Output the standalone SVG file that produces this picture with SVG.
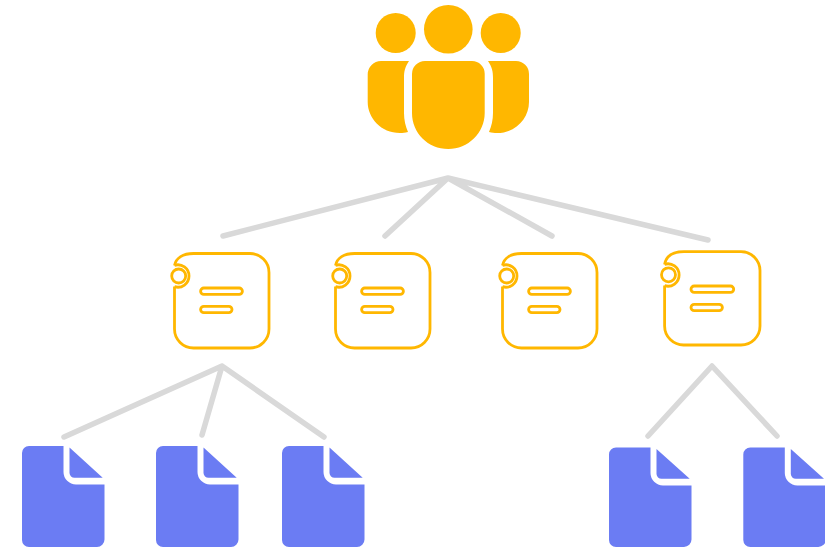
<svg xmlns="http://www.w3.org/2000/svg" width="825" height="547" viewBox="0 0 825 547">
<style>
.p{fill:#ffb700}
.d{fill:#6b7cf3}
.c{fill:none;stroke:#d9d9d9;stroke-width:5.5;stroke-linecap:round;stroke-linejoin:round}
.o{fill:none;stroke:#ffb700;stroke-width:2.8}
.r{fill:#fff;stroke:#ffb700;stroke-width:2.8}
</style>
<defs>
<g id="task">
<path class="o" d="M174.500,265.500C176,258 183,253.500 193.500,253.500H250A19,19 0 0 1 269,272.500V329A19,19 0 0 1 250,348H193.500A19,19 0 0 1 174.500,329V286.500"/>
<path class="o" d="M174.500,265.300A11.200,11.200 0 1 1 174.500,286.700"/>
<circle class="r" cx="178.700" cy="276" r="7"/>
<rect class="r" x="200.600" y="288" width="41.800" height="6.400" rx="3.200"/>
<rect class="r" x="200.600" y="306.300" width="31.400" height="6.400" rx="3.200"/>
</g>
<g id="task-b">
<path class="o" d="M664.600,264.500C666,256 673,251.600 684,251.600H741A19,19 0 0 1 760,270.600V326A19,19 0 0 1 741,345H684A19,19 0 0 1 664.600,326V285.500"/>
<path class="o" d="M664.600,264.300A11.200,11.200 0 1 1 664.600,285.700"/>
<circle class="r" cx="668.500" cy="274.800" r="7"/>
<rect class="r" x="691" y="286" width="42.700" height="6.400" rx="3.200"/>
<rect class="r" x="691" y="304.300" width="31.400" height="6.400" rx="3.200"/>
</g>
<g id="doc">
<path class="d" d="M29,446H63.500V472A12.500,12.500 0 0 0 76,484.500H104.500V539.500A7.500,7.500 0 0 1 97,547H29A7,7 0 0 1 22,540V453A7,7 0 0 1 29,446Z"/>
<path class="d" d="M69.500,447.500L102.700,477.800H74.500A5,5 0 0 1 69.500,473Z"/>
</g>
</defs>
<g id="connectors">
<path class="c" d="M223,236L448,178L708,240M385,236L448,178L552,236"/>
<path class="c" d="M64,437L222,366L324,437M202,435L222,366"/>
<path class="c" d="M648,436L712,366L777,436"/>
</g>
<g id="people">
<circle class="p" cx="448.300" cy="29.300" r="24.300"/>
<circle class="p" cx="395.700" cy="33" r="20"/>
<circle class="p" cx="500.700" cy="33" r="20"/>
<path class="p" d="M425,61H472A12.700,12.700 0 0 1 484.700,73.700V113C484.700,133 468,149 448.300,149C428,149 412,133 412,113V74A13,13 0 0 1 425,61Z"/>
<path class="p" d="M381,61H409C405,67 404,71 404,78V113C404,120 405.500,126 408,132C405,132.700 403,133 400,133C381,133 367.700,118 367.700,102V74.300A13.300,13.300 0 0 1 381,61Z"/>
<path class="p" d="M516,61H488C492,67 493,71 493,78V113C493,120 491.500,126 489,132C492,132.700 494,133 497,133C516,133 529,118 529,102V74A13,13 0 0 0 516,61Z"/>
</g>
<g id="task1"><use href="#task"/></g>
<g id="task2"><use href="#task" x="161"/></g>
<g id="task3"><use href="#task" x="328"/></g>
<g id="task4"><use href="#task-b"/></g>
<g id="doc1"><use href="#doc"/></g>
<g id="doc2"><use href="#doc" x="134"/></g>
<g id="doc3"><use href="#doc" x="260"/></g>
<g id="doc4" transform="matrix(1 0 0 .985 587 8.190)"><use href="#doc"/></g>
<g id="doc5" transform="matrix(1 0 0 .985 721.300 8.190)"><use href="#doc"/></g>
</svg>
